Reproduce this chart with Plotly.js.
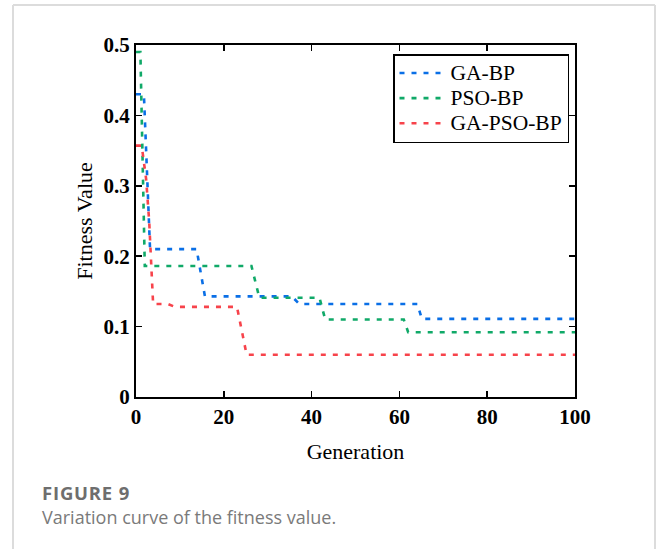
<!DOCTYPE html>
<html>
<head>
<meta charset="utf-8">
<script src="https://cdn.plot.ly/plotly-3.0.1.min.js"></script>
<style>
  html, body { margin: 0; padding: 0; background: #ffffff; }
  #chart { width: 656px; height: 549px; }
  text.legendtext { font-size: 21.5px !important; }
</style>
</head>
<body>
<div id="chart"></div>
<script>
// ---- data ----
const genGA   = [0, 1.8, 3.2, 13.8, 15.7, 35.5, 37.2, 64.1, 65.1, 100];
const fitGA   = [0.430, 0.430, 0.210, 0.210, 0.143, 0.143, 0.132, 0.132, 0.111, 0.111];

const genPSO  = [0, 1.0, 2.0, 26.3, 28.1, 41.8, 43.1, 61.0, 62.0, 100];
const fitPSO  = [0.490, 0.490, 0.186, 0.186, 0.141, 0.141, 0.110, 0.110, 0.092, 0.092];

const genGAPSO = [0, 1.3, 2.3, 3.0, 3.9, 7.3, 8.9, 23.0, 25.2, 100];
const fitGAPSO = [0.357, 0.357, 0.310, 0.250, 0.132, 0.132, 0.128, 0.128, 0.060, 0.060];

const seriesNames = ['GA-BP', 'PSO-BP', 'GA-PSO-BP'];
const xTickVals = [0, 20, 40, 60, 80, 100];
const yTickVals = [0, 0.1, 0.2, 0.3, 0.4, 0.5];
const yTickText = ['0', '0.1', '0.2', '0.3', '0.4', '0.5'];

const captionTitle = 'FIGURE 9';
const captionText = 'Variation curve of the fitness value.';

// ---- styles ----
const colors = ['#0a6fe6', '#10a968', '#f7434b'];
const serif = '"Liberation Serif", "Times New Roman", serif';

function mk(x, y, i) {
  return {
    x: x, y: y, name: seriesNames[i], type: 'scatter', mode: 'lines',
    line: { color: colors[i], width: 2.6, dash: '5px,7px' }
  };
}

const traces = [mk(genGA, fitGA, 0), mk(genPSO, fitPSO, 1), mk(genGAPSO, fitGAPSO, 2)];

// plot area in pixels: x 136..575, y 45..397
const L = 136, R = 575, T = 45, B = 397;
const px = v => (v - L) / (R - L);
const py = v => (B - v) / (B - T);

const frameColor = '#dcdcdc';
const shapes = [
  { type: 'line', xref: 'paper', yref: 'paper', x0: px(13), x1: px(655), y0: py(5), y1: py(5), line: { color: frameColor, width: 2 } },
  { type: 'line', xref: 'paper', yref: 'paper', x0: px(13), x1: px(13), y0: py(5), y1: py(549), line: { color: frameColor, width: 2 } },
  { type: 'line', xref: 'paper', yref: 'paper', x0: px(655), x1: px(655), y0: py(5), y1: py(549), line: { color: frameColor, width: 2 } }
];

const axisCommon = {
  showgrid: false, zeroline: false,
  showline: true, linecolor: '#000', linewidth: 2,
  mirror: 'ticks', ticks: 'inside', ticklen: 6, tickwidth: 1.5, tickcolor: '#000',
  tickfont: { family: serif, size: 21, color: '#000', weight: 'bold' }
};

const layout = {
  width: 656, height: 549,
  margin: { l: L, r: 656 - R, t: T, b: 549 - B },
  paper_bgcolor: '#ffffff', plot_bgcolor: '#ffffff',
  showlegend: true,
  legend: {
    x: px(393), y: py(54), xanchor: 'left', yanchor: 'top',
    bgcolor: '#ffffff', bordercolor: '#000', borderwidth: 1.5,
    font: { family: serif, size: 17, color: '#000' },
    tracegroupgap: 0, itemwidth: 46
  },
  xaxis: Object.assign({}, axisCommon, {
    range: [0, 100], tickvals: xTickVals,
    title: { text: 'Generation', font: { family: serif, size: 22, color: '#000' }, standoff: 15 }
  }),
  yaxis: Object.assign({}, axisCommon, {
    range: [0, 0.5], tickvals: yTickVals, ticktext: yTickText,
    title: { text: 'Fitness Value', font: { family: serif, size: 22, color: '#000' }, standoff: 5 }
  }),
  shapes: shapes,
  annotations: [
    { xref: 'paper', yref: 'paper', x: px(40), y: py(492), xanchor: 'left', yanchor: 'middle',
      text: '<b><span style="letter-spacing:0.8px">' + captionTitle + '</span></b>', showarrow: false,
      font: { family: '"Open Sans", sans-serif', size: 18.5, color: '#6e6e6e' } },
    { xref: 'paper', yref: 'paper', x: px(40), y: py(517), xanchor: 'left', yanchor: 'middle',
      text: captionText, showarrow: false,
      font: { family: '"Open Sans", sans-serif', size: 18, color: '#7a7a7a' } }
  ]
};

Plotly.newPlot('chart', traces, layout, { displayModeBar: false, staticPlot: true });
</script>
</body>
</html>
